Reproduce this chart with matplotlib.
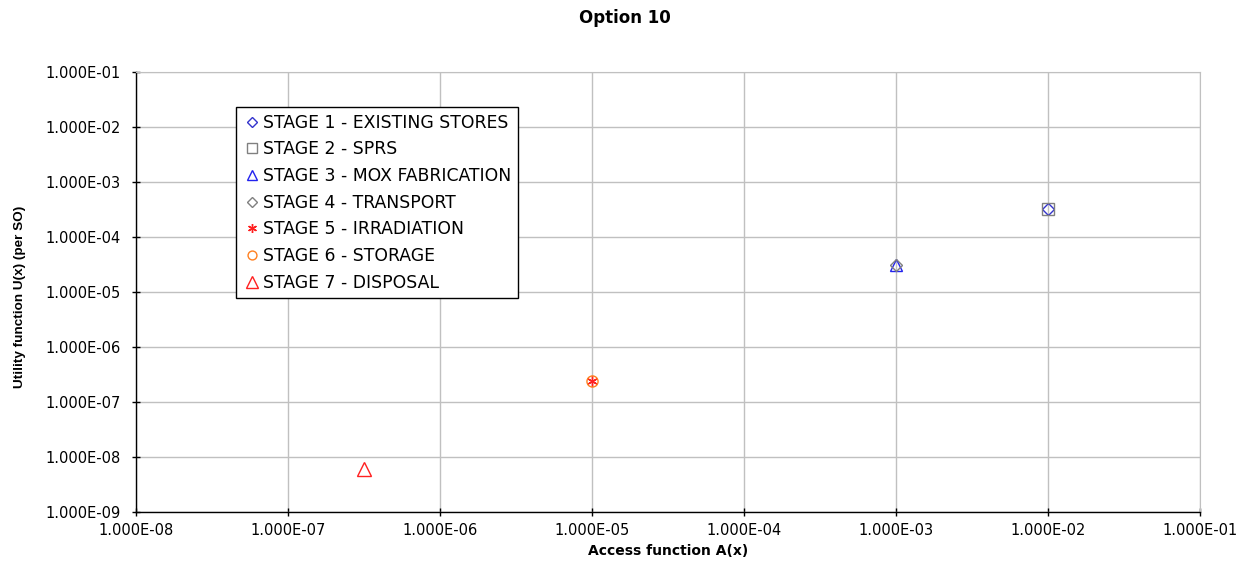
import matplotlib
matplotlib.use("Agg")
import matplotlib.pyplot as plt
from matplotlib.ticker import LogLocator, FuncFormatter, NullLocator

plt.rcParams['font.family'] = ['DejaVu Sans']

# Access function A(x) and utility function U(x) per stage
stages = [
    "STAGE 1 - EXISTING STORES",
    "STAGE 2 - SPRS",
    "STAGE 3 - MOX FABRICATION",
    "STAGE 4 - TRANSPORT",
    "STAGE 5 - IRRADIATION",
    "STAGE 6 - STORAGE",
    "STAGE 7 - DISPOSAL",
]
access = [1.0e-2, 1.0e-2, 1.0e-3, 1.0e-3, 1.0e-5, 1.0e-5, 3.16e-7]
utility = [3.2e-4, 3.2e-4, 3.1e-5, 3.1e-5, 2.4e-7, 2.4e-7, 6.0e-9]

markers = ['D', 's', '^', 'D', (6, 2, 0), 'o', '^']
colors = ['#3333cc', '#808080', '#2222ee', '#808080', '#ff2020', '#ff8020', '#ff2020']
sizes = [6.5, 8.5, 9, 6.5, 8, 8, 10]

fig = plt.figure(figsize=(12.49, 5.63), dpi=100)
ax = fig.add_axes([0.1089, 0.0906, 0.8519, 0.7815])

for name, xv, yv, m, c, s in zip(stages, access, utility, markers, colors, sizes):
    ax.plot([xv], [yv], linestyle='none', marker=m, markersize=s,
            markerfacecolor='none', markeredgecolor=c, markeredgewidth=1.0,
            label=name)

ax.set_xscale('log')
ax.set_yscale('log')
ax.set_xlim(1e-8, 1e-1)
ax.set_ylim(1e-9, 1e-1)

ax.xaxis.set_major_locator(LogLocator(base=10, numticks=20))
ax.yaxis.set_major_locator(LogLocator(base=10, numticks=20))
ax.xaxis.set_minor_locator(NullLocator())
ax.yaxis.set_minor_locator(NullLocator())

def sci(v, pos):
    return "{:.3E}".format(v)

ax.xaxis.set_major_formatter(FuncFormatter(sci))
ax.yaxis.set_major_formatter(FuncFormatter(sci))

ax.grid(True, which='major', color='#c0c0c0', linewidth=1.0)
ax.set_axisbelow(True)

for side in ['top', 'right']:
    ax.spines[side].set_color('#c0c0c0')
for side in ['left', 'bottom']:
    ax.spines[side].set_color('black')
    ax.spines[side].set_linewidth(1.0)

ax.tick_params(axis='both', which='major', direction='inout', length=6,
               width=1.0, labelsize=10.5, colors='black')
ax.tick_params(axis='x', pad=5)
ax.tick_params(axis='y', pad=8)

ax.set_xlabel("Access function A(x)", fontsize=10, fontweight='bold', labelpad=4)
ax.set_ylabel("Utility function U(x) (per SO)", fontsize=9.7, fontweight='bold',
              family=['Liberation Sans'])
ax.yaxis.set_label_coords(-0.1034, 0.489)

fig.text(0.5, 1 - 18 / 563, "Option 10", ha='center', va='center',
         fontsize=12, fontweight='bold')

leg = ax.legend(loc='upper left', bbox_to_anchor=(0.094, 0.9205), fontsize=12.4,
                frameon=True, fancybox=False, framealpha=1, edgecolor='black',
                handlelength=1.0, handletextpad=0.15, labelspacing=0.5,
                borderpad=0.4, borderaxespad=0, markerscale=0.8)
leg.get_frame().set_linewidth(1.0)

fig.savefig("out.png", dpi=100)
